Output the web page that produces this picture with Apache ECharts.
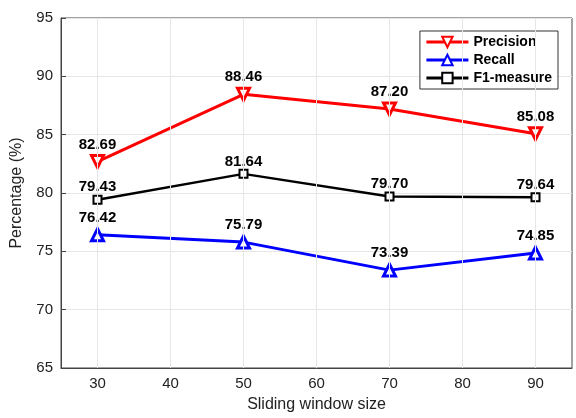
<!DOCTYPE html>
<html><head><meta charset="utf-8">
<script src="https://cdn.jsdelivr.net/npm/echarts@6/dist/echarts.min.js"></script>
<style>html,body{margin:0;padding:0;background:#fff}#c{width:576px;height:418px}</style>
</head><body><div id="c"></div>
<script>
const windowSizes = [30, 50, 70, 90];
const precision = [82.69, 88.46, 87.20, 85.08];
const recall = [76.42, 75.79, 73.39, 74.85];
const f1 = [79.43, 81.64, 79.70, 79.64];
const xTicks = [30, 40, 50, 60, 70, 80, 90];

const font = 'Liberation Sans, Arial, sans-serif';
function mk(name, vals, color, symbol, rot, size, lw, bw, dist) {
  return {
    name, type: 'line',
    data: windowSizes.map((x, i) => [x, vals[i]]),
    lineStyle: {color, width: lw},
    itemStyle: {color: '#fff', borderColor: color, borderWidth: bw},
    symbol, symbolRotate: rot, symbolSize: size,
    label: {show: true, position: 'top', distance: dist, color: '#000', fontWeight: 'bold', fontSize: 15, fontFamily: font,
      formatter: p => p.value[1].toFixed(2)},
    z: 3
  };
}
const chart = echarts.init(document.getElementById('c'));
chart.setOption({
  animation: false,
  grid: {left: 61, right: 4, top: 18, bottom: 46, show: true, borderColor: '#444', borderWidth: 1},
  legend: {
    right: 18, top: 31, orient: 'vertical', itemGap: 4, itemWidth: 42, itemHeight: 13,
    borderColor: '#333', borderWidth: 1, padding: [4, 6, 4, 5], backgroundColor: '#fff',
    lineStyle: {width: 3},
    textStyle: {fontWeight: 'bold', fontSize: 14, fontFamily: font, color: '#000'},
    data: ['Precision', 'Recall', 'F1-measure']
  },
  xAxis: {
    type: 'value', min: 25, max: 95, interval: 5,
    name: 'Sliding window size', nameLocation: 'middle', nameGap: 29,
    nameTextStyle: {fontSize: 16, color: '#222', fontFamily: font},
    axisLine: {lineStyle: {color: '#444'}},
    axisTick: {show: true, inside: true, customValues: xTicks, lineStyle: {color: '#444'}},
    axisLabel: {customValues: xTicks, fontSize: 15, color: '#222', fontFamily: font},
    splitLine: {show: false}
  },
  yAxis: {
    type: 'value', min: 65, max: 95, interval: 5,
    name: 'Percentage (%)', nameLocation: 'middle', nameGap: 36,
    nameTextStyle: {fontSize: 16, color: '#222', fontFamily: font},
    axisLine: {show: true, lineStyle: {color: '#444'}},
    axisTick: {show: true, inside: true, lineStyle: {color: '#444'}},
    axisLabel: {fontSize: 15, color: '#222', fontFamily: font},
    splitLine: {show: true, lineStyle: {color: '#e6e6e6'}}
  },
  series: [
    mk('Precision', precision, '#ff0000', 'triangle', 180, 12, 3, 3, 2),
    mk('Recall', recall, '#0000ff', 'triangle', 0, 12, 3, 3, 2),
    mk('F1-measure', f1, '#000000', 'rect', 0, 8, 2.5, 2, 0),
    {type: 'line', data: [], markLine: {silent: true, symbol: 'none', label: {show: false},
      lineStyle: {color: '#e6e6e6', type: 'solid', width: 1},
      data: xTicks.map(v => ({xAxis: v}))}, z: 1}
  ]
});
</script></body></html>
